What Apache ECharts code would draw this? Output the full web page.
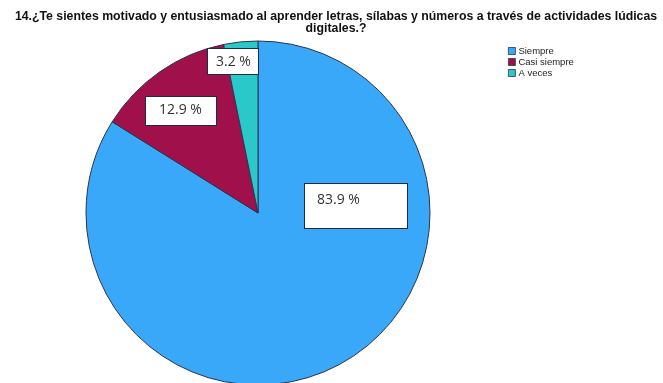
<!DOCTYPE html>
<html>
<head>
<meta charset="utf-8">
<script src="https://cdn.jsdelivr.net/npm/echarts@6/dist/echarts.min.js"></script>
<style>
  html, body { margin: 0; padding: 0; background: #ffffff; }
  #chart { width: 663px; height: 383px; }
</style>
</head>
<body>
<div id="chart"></div>
<script>
// Answer categories and their share of responses (%)
const categories = ['Siempre', 'Casi siempre', 'A veces'];
const percentages = [83.9, 12.9, 3.2];
const sliceColors = ['#3aa8f8', '#a0104a', '#2ac8c8'];

// Top-left corner, inner size and padding of each value box
const labelBoxes = [
  { x: 305, y: 184, w: 78, h: 26, pad: [9, 12, 9, 12] },
  { x: 146, y: 97, w: 57, h: 16, pad: [6, 0, 6, 13] },
  { x: 208, y: 49, w: 42, h: 14, pad: [6, 0, 5, 8] }
];

const chart = echarts.init(document.getElementById('chart'), null, { renderer: 'canvas' });

const data = categories.map((name, i) => ({
  name: name,
  value: percentages[i],
  itemStyle: { color: sliceColors[i] },
  label: {
    width: labelBoxes[i].w,
    height: labelBoxes[i].h,
    padding: labelBoxes[i].pad
  }
}));

chart.setOption({
  animation: false,
  backgroundColor: '#ffffff',
  title: {
    text: '14.¿Te sientes motivado y entusiasmado al aprender letras, sílabas y números a través de actividades lúdicas\ndigitales.?',
    left: 336,
    top: 11,
    padding: 0,
    textAlign: 'center',
    textStyle: {
      fontFamily: 'Liberation Sans, Arial, sans-serif',
      fontWeight: 'bold',
      fontSize: 12.3,
      lineHeight: 11.5,
      color: '#111'
    }
  },
  legend: {
    orient: 'vertical',
    left: 503,
    top: 41,
    itemWidth: 7,
    itemHeight: 7,
    itemGap: 1,
    icon: 'rect',
    itemStyle: { borderColor: '#2a3550', borderWidth: 0.8 },
    textStyle: {
      fontFamily: 'Liberation Sans, Arial, sans-serif',
      fontSize: 9.5,
      color: '#222',
      padding: [0, 0, 0, -2]
    },
    data: categories
  },
  series: [{
    type: 'pie',
    center: [258, 213],
    radius: 172,
    startAngle: 90,
    clockwise: true,
    data: data,
    itemStyle: { borderColor: '#2a3550', borderWidth: 1 },
    emphasis: { disabled: true },
    labelLine: { show: false },
    label: {
      show: true,
      position: 'inside',
      formatter: p => p.value.toFixed(1) + ' %',
      fontFamily: 'Open Sans, Liberation Sans, sans-serif',
      fontSize: 14,
      color: '#333',
      backgroundColor: '#ffffff',
      borderColor: '#1f2a44',
      borderWidth: 1,
      align: 'left',
      verticalAlign: 'top'
    },
    labelLayout: function (params) {
      const b = labelBoxes[params.dataIndex];
      return { x: b.x, y: b.y, align: 'left', verticalAlign: 'top' };
    }
  }]
});
</script>
</body>
</html>
